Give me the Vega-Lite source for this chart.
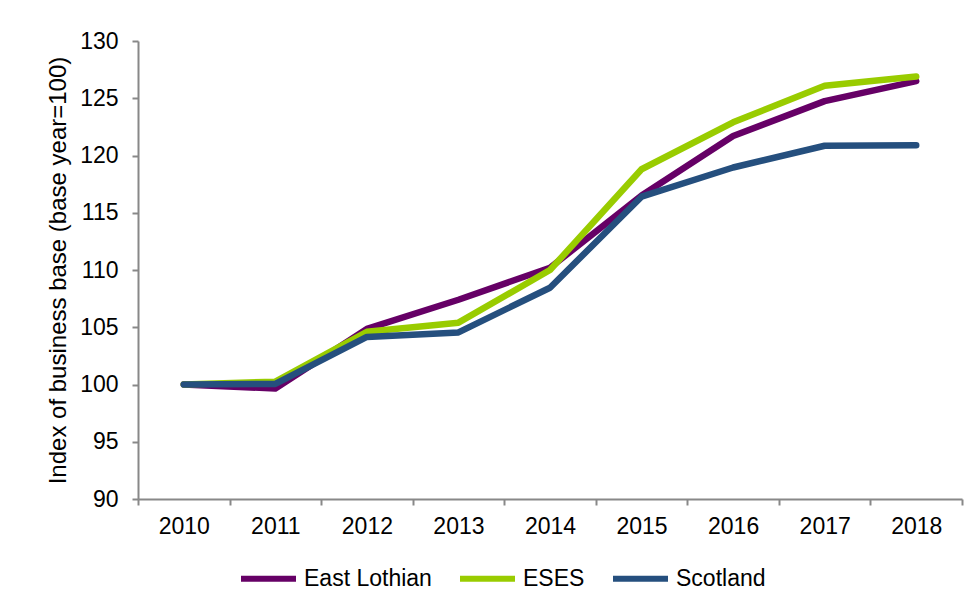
{
  "$schema": "https://vega.github.io/schema/vega-lite/v6.json",
  "autosize": "none",
  "width": 824,
  "height": 458,
  "padding": {"left": 138, "top": 41, "right": 16, "bottom": 107},
  "background": "white",
  "config": {
    "font": "Liberation Sans",
    "view": {"stroke": null}
  },
  "data": {
    "values": [
      {"year": "2010", "series": "East Lothian", "value": 100},
      {"year": "2011", "series": "East Lothian", "value": 99.65},
      {"year": "2012", "series": "East Lothian", "value": 104.85},
      {"year": "2013", "series": "East Lothian", "value": 107.4},
      {"year": "2014", "series": "East Lothian", "value": 110.2},
      {"year": "2015", "series": "East Lothian", "value": 116.5},
      {"year": "2016", "series": "East Lothian", "value": 121.7},
      {"year": "2017", "series": "East Lothian", "value": 124.75},
      {"year": "2018", "series": "East Lothian", "value": 126.5},
      {"year": "2010", "series": "ESES", "value": 100},
      {"year": "2011", "series": "ESES", "value": 100.25},
      {"year": "2012", "series": "ESES", "value": 104.6},
      {"year": "2013", "series": "ESES", "value": 105.4},
      {"year": "2014", "series": "ESES", "value": 110.0},
      {"year": "2015", "series": "ESES", "value": 118.8},
      {"year": "2016", "series": "ESES", "value": 122.9},
      {"year": "2017", "series": "ESES", "value": 126.1},
      {"year": "2018", "series": "ESES", "value": 126.9},
      {"year": "2010", "series": "Scotland", "value": 100},
      {"year": "2011", "series": "Scotland", "value": 100.05},
      {"year": "2012", "series": "Scotland", "value": 104.15},
      {"year": "2013", "series": "Scotland", "value": 104.55},
      {"year": "2014", "series": "Scotland", "value": 108.45},
      {"year": "2015", "series": "Scotland", "value": 116.4},
      {"year": "2016", "series": "Scotland", "value": 118.95},
      {"year": "2017", "series": "Scotland", "value": 120.85},
      {"year": "2018", "series": "Scotland", "value": 120.9}
    ]
  },
  "mark": {"type": "line", "strokeWidth": 6.5, "strokeCap": "round", "strokeJoin": "round"},
  "encoding": {
    "x": {
      "field": "year",
      "type": "ordinal",
      "scale": {"type": "band", "paddingInner": 0, "paddingOuter": 0},
      "axis": {
        "title": null,
        "labelAngle": 0,
        "labelFontSize": 23,
        "labelColor": "#000000",
        "labelPadding": 10,
        "tickBand": "extent",
        "tickSize": 6,
        "tickColor": "#888888",
        "tickWidth": 2,
        "domainColor": "#888888",
        "domainWidth": 2
      }
    },
    "y": {
      "field": "value",
      "type": "quantitative",
      "scale": {"domain": [90, 130], "nice": false, "zero": false},
      "axis": {
        "title": "Index of business base (base year=100)",
        "titleFontSize": 24,
        "titleFontWeight": "normal",
        "titleColor": "#000000",
        "titlePadding": 9,
        "values": [90, 95, 100, 105, 110, 115, 120, 125, 130],
        "labelFontSize": 23,
        "labelColor": "#000000",
        "labelPadding": 14,
        "tickSize": 6,
        "tickColor": "#888888",
        "tickWidth": 2,
        "domainColor": "#888888",
        "domainWidth": 2,
        "grid": false
      }
    },
    "color": {
      "field": "series",
      "type": "nominal",
      "sort": ["East Lothian", "ESES", "Scotland"],
      "scale": {
        "domain": ["East Lothian", "ESES", "Scotland"],
        "range": ["#660066", "#99CC00", "#254F7E"]
      },
      "legend": {
        "title": null,
        "orient": "none",
        "direction": "horizontal",
        "legendX": 100,
        "legendY": 507,
        "symbolType": "stroke",
        "symbolSize": 3025,
        "symbolStrokeWidth": 6,
        "labelFontSize": 23,
        "labelColor": "#000000",
        "labelOffset": 5,
        "columnPadding": 16
      }
    }
  }
}
